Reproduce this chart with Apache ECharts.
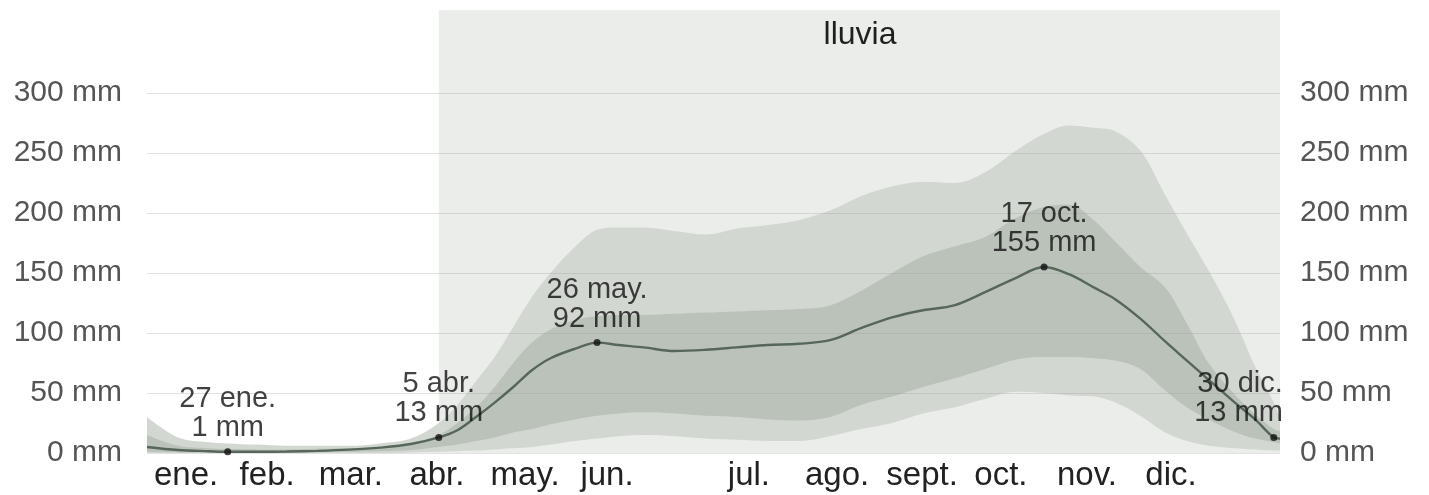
<!DOCTYPE html>
<html>
<head>
<meta charset="utf-8">
<script src="https://cdn.jsdelivr.net/npm/echarts@6/dist/echarts.min.js"></script>
<style>
html,body{margin:0;padding:0;background:#ffffff;}
#chart{width:1429px;height:495px;}
</style>
</head>
<body>
<div id="chart"></div>
<script>
// ---- data (day of year, 0 = 1 ene.) ----
const days    = [0, 10, 20, 26, 35, 45, 55, 65, 75, 85, 94, 100, 106, 112, 118, 124, 130, 138, 145, 152, 160, 170, 180, 190, 200, 210, 220, 230, 240, 250, 260, 270, 280, 289, 297, 305, 312, 320, 328, 335, 342, 350, 357, 363, 365];
const median  = [5, 2.5, 1.5, 1, 1, 1.2, 1.8, 2.8, 4.5, 7.5, 13, 19, 30, 42, 55, 69, 79, 87, 92, 90, 88, 85, 86, 88, 90, 91, 94, 104, 113, 119, 123, 134, 146, 155, 149, 138, 128, 112, 93, 77, 61, 43, 28, 13, 12];
const p10     = [0, 0, 0, 0, 0, 0, 0, 0, 0, 0.5, 1, 1.5, 2, 3, 4, 5, 7, 10, 12, 14, 15, 14, 12, 11, 10, 10, 14, 20, 25, 33, 38, 45, 51, 50, 48, 47, 42, 31, 17, 10, 6, 4, 3, 2, 2];
const p25     = [1, 0.5, 0.4, 0.3, 0.3, 0.4, 0.6, 1, 1.5, 2.5, 5, 7, 10, 13, 17, 20, 24, 28, 31, 33, 34, 33, 31, 30, 28, 27, 30, 40, 47, 55, 62, 70, 78, 80, 80, 79, 77, 70, 52, 38, 28, 18, 12, 9, 8];
const p75     = [15, 6, 4, 3.5, 3, 3, 3.5, 4, 5, 8, 15, 25, 38, 55, 75, 92, 103, 111, 114, 115, 115, 116, 117, 118, 119, 120, 123, 135, 150, 164, 172, 180, 196, 205, 207, 194, 176, 155, 138, 108, 75, 50, 32, 20, 18];
const p90     = [30, 13, 9, 8, 7, 6, 6, 6, 8, 12, 25, 40, 60, 80, 105, 130, 150, 172, 186, 188, 188, 185, 182, 187, 190, 194, 202, 214, 222, 226, 225, 234, 252, 266, 273, 271, 268, 252, 215, 183, 152, 113, 72, 42, 30];

const monthNames     = ['ene.', 'feb.', 'mar.', 'abr.', 'may.', 'jun.', 'jul.', 'ago.', 'sept.', 'oct.', 'nov.', 'dic.'];
const monthLabelDays = [12.6, 38.7, 65.7, 93.4, 121.8, 148.2, 193.9, 222.3, 249.7, 275.1, 302.8, 329.9];

const peakDays   = [26, 94, 145, 289, 363];
const peakValues = [1, 13, 92, 155, 13];
const peakNames  = ['27 ene.', '5 abr.', '26 may.', '17 oct.', '30 dic.'];

// wet season shading (day range) and its top value in mm
const seasonStart = 94, seasonEnd = 365, seasonTop = 369;

// ---- build ----
const FONT = '"Liberation Sans", Arial, Helvetica, sans-serif';
const pts = arr => days.map((d, i) => [d, arr[i]]);

const BG_SEASON = '#ebedea';
const OUTER = '#d3d7d2';
const INNER = '#bbc2ba';

function band(name, arr, color) {
  return { type: 'line', name: name, data: pts(arr), smooth: 0.35, symbol: 'none', silent: true, z: 2,
    lineStyle: { width: 0, opacity: 0 }, areaStyle: { color: color, opacity: 1 } };
}

const chart = echarts.init(document.getElementById('chart'), null, { renderer: 'canvas' });

chart.setOption({
  animation: false,
  backgroundColor: '#ffffff',
  title: {
    text: 'lluvia', left: 855, top: 14, textAlign: 'center',
    textStyle: { fontFamily: FONT, fontSize: 32, fontWeight: 'normal', color: '#1f1f1f' }
  },
  grid: { left: 147, right: 149, top: 93, bottom: 42, containLabel: false },
  xAxis: {
    type: 'value', min: 0, max: 365,
    axisLine: { show: false }, axisTick: { show: false }, splitLine: { show: false },
    axisLabel: {
      customValues: monthLabelDays,
      formatter: v => { const i = monthLabelDays.findIndex(m => Math.abs(m - v) < 0.01); return i >= 0 ? monthNames[i] : ''; },
      fontFamily: FONT, fontSize: 33, color: '#222', margin: 6, lineHeight: 33
    }
  },
  yAxis: [
    { type: 'value', min: 0, max: 300, interval: 50, position: 'left', z: 3,
      axisLine: { show: false }, axisTick: { show: false },
      splitLine: { show: true, lineStyle: { color: 'rgba(150,150,150,0.28)', width: 1 } },
      axisLabel: { formatter: '{value} mm', fontFamily: FONT, fontSize: 30, color: '#555', margin: 25 } },
    { type: 'value', min: 0, max: 300, interval: 50, position: 'right',
      axisLine: { show: false }, axisTick: { show: false }, splitLine: { show: false },
      axisLabel: { formatter: '{value} mm', fontFamily: FONT, fontSize: 30, color: '#555', margin: 20 } }
  ],
  series: [
    { type: 'custom', name: 'temporada', z: -1, silent: true, clip: false,
      data: [[seasonStart, 0]],
      renderItem: (params, api) => {
        const a = api.coord([seasonStart, seasonTop]);
        const b = api.coord([seasonEnd, 0]);
        return { type: 'rect', shape: { x: a[0], y: a[1], width: b[0] - a[0], height: b[1] - a[1] },
                 style: { fill: BG_SEASON } };
      } },
    band('percentil 90', p90, OUTER),
    band('percentil 75', p75, INNER),
    band('percentil 25', p25, OUTER),
    band('percentil 10', p10, BG_SEASON),
    { type: 'line', name: 'mediana', data: pts(median), smooth: 0.35, symbol: 'none', z: 4,
      lineStyle: { color: '#56665a', width: 2.4 } },
    { type: 'scatter', name: 'extremos', z: 5, symbolSize: 7,
      itemStyle: { color: '#111' },
      data: peakDays.map((d, i) => {
        const item = { value: [d, peakValues[i]], name: peakNames[i] };
        if (i === peakDays.length - 1) item.label = { align: 'right', offset: [9, 0] };
        return item;
      }),
      label: {
        show: true, position: 'top', distance: 6,
        formatter: p => peakNames[p.dataIndex] + '\n' + peakValues[p.dataIndex] + ' mm',
        fontFamily: FONT, fontSize: 29, lineHeight: 29, color: '#111'
      } }
  ]
});
</script>
</body>
</html>
